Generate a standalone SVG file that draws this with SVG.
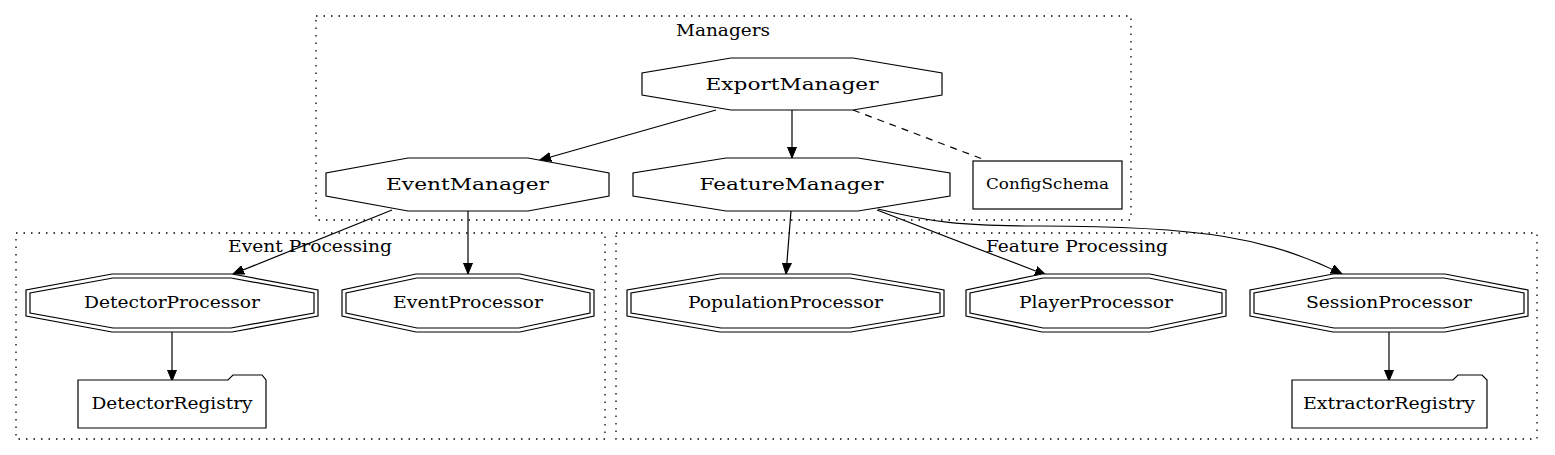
<svg xmlns="http://www.w3.org/2000/svg" width="1555" height="455" viewBox="0 0 1555 455">
<style>
.cl{fill:none;stroke:#000;stroke-width:1.3;stroke-dasharray:1.5 6}
.n{fill:#fff;stroke:#000;stroke-width:1.2}
.e{fill:none;stroke:#000;stroke-width:1.2}
text{font-family:"DejaVu Serif","Liberation Serif",serif;fill:#000;text-anchor:middle}
.t18{font-size:17.5px}
.t16{font-size:16.5px}
.t14{font-size:14.5px}
</style>
<defs>
<marker id="ah" markerUnits="userSpaceOnUse" markerWidth="12" markerHeight="10" refX="11" refY="5" orient="auto">
<path d="M0,0.5 L11,5 L0,9.5 Z" fill="#000" stroke="#000" stroke-width="1"/>
</marker>
</defs>
<rect width="1555" height="455" fill="#fff"/>
<g id="clusters">
<rect class="cl" x="316" y="16" width="815" height="204"/>
<text class="t16" x="723" y="36" textLength="94" lengthAdjust="spacingAndGlyphs">Managers</text>
<rect class="cl" x="16" y="233" width="589" height="206"/>
<text class="t16" x="310" y="252" textLength="164" lengthAdjust="spacingAndGlyphs">Event Processing</text>
<rect class="cl" x="616" y="233" width="921" height="206"/>
<text class="t16" x="1077" y="252" textLength="182" lengthAdjust="spacingAndGlyphs">Feature Processing</text>
</g>
<g id="edges">
<path class="e" d="M716,110 L540,160" marker-end="url(#ah)"/>
<path class="e" d="M792,110 L792,158" marker-end="url(#ah)"/>
<path class="e" d="M853,110 L985,160" stroke-dasharray="7 6"/>
<path class="e" d="M392,210 L233,274" marker-end="url(#ah)"/>
<path class="e" d="M468,211 L468,274" marker-end="url(#ah)"/>
<path class="e" d="M791,211 L786,274" marker-end="url(#ah)"/>
<path class="e" d="M877,210 L1046,275" marker-end="url(#ah)"/>
<path class="e" d="M878,209 C930,222 960,226 1040,226 C1200,226 1270,238 1342,274" marker-end="url(#ah)"/>
<path class="e" d="M172,332 L172,381" marker-end="url(#ah)"/>
<path class="e" d="M1389,332 L1389,381" marker-end="url(#ah)"/>
</g>
<g id="ExportManager">
<polygon class="n" points="731,58 853,58 942,73 942,95 853,110 731,110 642,95 642,73"/>
<text class="t18" x="792" y="89.5" textLength="173" lengthAdjust="spacingAndGlyphs">ExportManager</text>
</g>
<g id="EventManager">
<polygon class="n" points="408,158 528,158 609,173 609,196 528,211 408,211 326,196 326,173"/>
<text class="t18" x="467.5" y="190" textLength="163" lengthAdjust="spacingAndGlyphs">EventManager</text>
</g>
<g id="FeatureManager">
<polygon class="n" points="726,158 858,158 950,173 950,196 858,211 726,211 633,196 633,173"/>
<text class="t18" x="791.5" y="190" textLength="184" lengthAdjust="spacingAndGlyphs">FeatureManager</text>
</g>
<g id="ConfigSchema">
<rect class="n" x="973" y="161" width="149" height="48"/>
<text class="t14" x="1047.5" y="189" textLength="123" lengthAdjust="spacingAndGlyphs">ConfigSchema</text>
</g>
<g id="DetectorProcessor">
<polygon class="n" points="112,274 232,274 318,290 318,316 232,332 112,332 26,316 26,290"/>
<polygon class="n" points="113,278 231,278 314,293 314,313 231,328 113,328 30,313 30,293"/>
<text class="t16" x="172" y="308" textLength="176" lengthAdjust="spacingAndGlyphs">DetectorProcessor</text>
</g>
<g id="EventProcessor">
<polygon class="n" points="416,274 520,274 594,290 594,316 520,332 416,332 342,316 342,290"/>
<polygon class="n" points="417,278 519,278 590,293 590,313 519,328 417,328 346,313 346,293"/>
<text class="t16" x="468" y="308" textLength="150" lengthAdjust="spacingAndGlyphs">EventProcessor</text>
</g>
<g id="PopulationProcessor">
<polygon class="n" points="720,274 851,274 944,290 944,316 851,332 720,332 627,316 627,290"/>
<polygon class="n" points="721,278 850,278 940,293 940,313 850,328 721,328 631,313 631,293"/>
<text class="t16" x="785.5" y="308" textLength="195" lengthAdjust="spacingAndGlyphs">PopulationProcessor</text>
</g>
<g id="PlayerProcessor">
<polygon class="n" points="1042,274 1150,274 1226,290 1226,316 1150,332 1042,332 966,316 966,290"/>
<polygon class="n" points="1043,278 1149,278 1222,293 1222,313 1149,328 1043,328 970,313 970,293"/>
<text class="t16" x="1096" y="308" textLength="154" lengthAdjust="spacingAndGlyphs">PlayerProcessor</text>
</g>
<g id="SessionProcessor">
<polygon class="n" points="1333,274 1445,274 1528,290 1528,316 1445,332 1333,332 1250,316 1250,290"/>
<polygon class="n" points="1334,278 1444,278 1524,293 1524,313 1444,328 1334,328 1254,313 1254,293"/>
<text class="t16" x="1389" y="308" textLength="166" lengthAdjust="spacingAndGlyphs">SessionProcessor</text>
</g>
<g id="DetectorRegistry">
<path class="n" d="M78,380 L228,380 L233,375 L262,375 L266,380 L266,428 L78,428 Z"/>
<text class="t16" x="172" y="409" textLength="161" lengthAdjust="spacingAndGlyphs">DetectorRegistry</text>
</g>
<g id="ExtractorRegistry">
<path class="n" d="M1292,380 L1453,380 L1458,375 L1482,375 L1487,380 L1487,428 L1292,428 Z"/>
<text class="t16" x="1389" y="409" textLength="172" lengthAdjust="spacingAndGlyphs">ExtractorRegistry</text>
</g>
</svg>
